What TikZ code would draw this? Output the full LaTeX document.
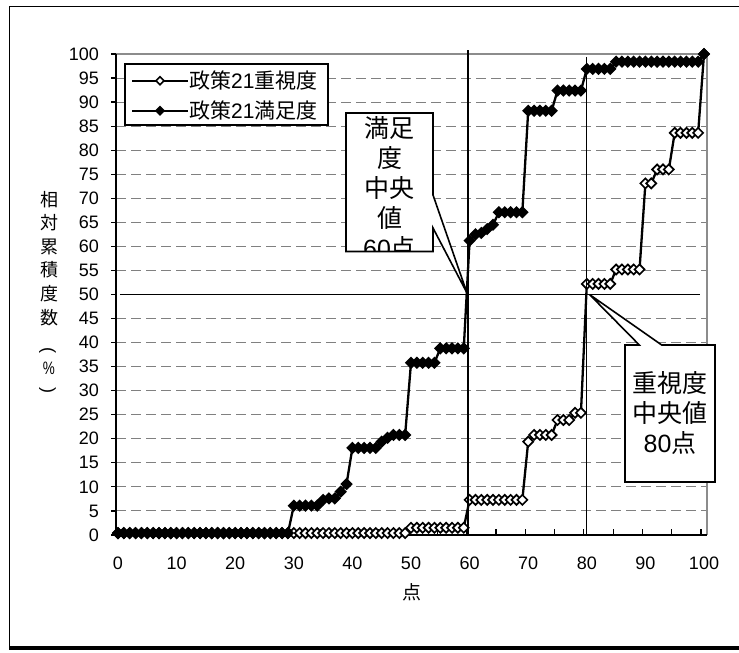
\documentclass[tikz,border=0pt]{standalone}
\usepackage{fontspec}
\setmainfont{Liberation Sans}
\newfontfamily\cjk{Noto Sans CJK JP}
\definecolor{gridgray}{RGB}{128,128,128}
\definecolor{bordergray}{RGB}{140,140,140}
\tikzset{
  gridl/.style={draw=gridgray, line width=1pt, dash pattern=on 10pt off 5pt},
  plotborder/.style={draw=bordergray, line width=1.6pt},
  axisl/.style={draw=black, line width=1.2pt},
  serline/.style={draw=black, line width=2.3pt, line join=round},
  openmk/.style={draw=black, fill=white, line width=1.7pt, line join=miter},
  fillmk/.style={draw=black, fill=black, line width=1.7pt, line join=miter},
  legopen/.style={draw=black, fill=white, line width=1.5pt, line join=miter},
  legfill/.style={draw=black, fill=black, line width=1.5pt, line join=miter},
  medline/.style={draw=black, line width=1.5pt},
  callout/.style={draw=black, fill=white, line width=1.6pt, line join=miter},
  legbox/.style={draw=black, fill=white, line width=1.3pt},
  ticklab/.style={font=\fontsize{18}{20}\selectfont, inner sep=0pt},
  legtext/.style={font=\fontsize{21}{24}\selectfont, inner sep=0pt, anchor=base west},
  cotext/.style={font=\fontsize{25}{30}\selectfont, inner sep=0pt, anchor=base},
  ylab/.style={font=\fontsize{18}{18}\selectfont\cjk, inner sep=0pt},
  yparen/.style={font=\fontsize{18}{18}\selectfont, inner sep=0pt, rotate=-90}
}
\begin{document}
\begin{tikzpicture}[x=1pt,y=1pt]
\useasboundingbox (0,0) rectangle (739,653);
\fill[white] (0,0) rectangle (739,653);
% outer frame
\draw[line width=1pt] (739,646) -- (9,646) -- (9,5);
\draw[line width=4pt] (9,5) -- (739,5);

\begin{scope}[x=5.86pt,y=4.81pt,shift={(118pt,118pt)}]
  \foreach \v in {5,10,...,45,55,60,...,95}
    \draw[gridl] (-0.34,\v) -- (100.5,\v);
  \draw[plotborder] (-0.34,100) -- (100.5,100) -- (100.5,0);
  \draw[axisl] (-0.34,100) -- (-0.34,0) -- (100.5,0);
  \foreach \v in {0,5,...,100} {
    \draw[axisl] (-0.34,\v) -- ++(-5pt,0);
    \node[ticklab, anchor=east, xshift=-17pt] (yl\v) at (-0.34,\v) {\v};
  }
  \foreach \k in {5,10,...,100}
    \draw[axisl] ({\k-0.5},0) -- ++(0,6pt);
  \foreach \t in {0,10,...,100}
    \node[ticklab, yshift=-28.5pt] (xl\t) at (\t,0) {\t};

  % series 1: importance (open diamonds)
  \draw[serline] (0,0.4) -- (49,0.4) -- (50,1.5) -- (59,1.5) -- (60,7.3) -- (69,7.3)
    -- (70,19.4) -- (71,20.8) -- (74,20.8) -- (75,23.9) -- (77,23.9) -- (78,25.4)
    -- (79,25.4) -- (80,52.2) -- (84,52.2) -- (85,55.2) -- (89,55.2) -- (90,73.1)
    -- (91,73.1) -- (92,76) -- (94,76) -- (95,83.6) -- (99,83.6) -- (100,100);
  \foreach \a/\b/\v in {0/49/0.4, 50/59/1.5, 60/69/7.3, 70/70/19.4, 71/74/20.8,
      75/77/23.9, 78/79/25.4, 80/84/52.2, 85/89/55.2, 90/91/73.1, 92/94/76,
      95/99/83.6, 100/100/100} {
    \foreach \i in {\a,...,\b} {
      \draw[openmk] (\i,\v) +(0,5pt) -- +(5pt,0) -- +(0,-5pt) -- +(-5pt,0) -- cycle;
    }
  }
  % series 2: satisfaction (filled diamonds)
  \draw[serline] (0,0.4) -- (29,0.4) -- (30,6.1) -- (34,6.1) -- (35,7.3) -- (36,7.6)
    -- (37,7.6) -- (38,9) -- (39,10.6) -- (40,18.1) -- (44,18.1) -- (45,19.4)
    -- (46,20.2) -- (47,20.8) -- (49,20.8) -- (50,35.8) -- (54,35.8) -- (55,38.8)
    -- (59,38.8) -- (60,61.2) -- (61,62.5) -- (62,62.8) -- (63,63.6) -- (64,64.5)
    -- (65,67.1) -- (69,67.1) -- (70,88.2) -- (74,88.2) -- (75,92.4) -- (79,92.4)
    -- (80,96.9) -- (84,96.9) -- (85,98.4) -- (99,98.4) -- (100,100);
  \foreach \a/\b/\v in {0/29/0.4, 30/34/6.1, 35/35/7.3, 36/37/7.6, 38/38/9,
      39/39/10.6, 40/44/18.1, 45/45/19.4, 46/46/20.2, 47/49/20.8, 50/54/35.8,
      55/59/38.8, 60/60/61.2, 61/61/62.5, 62/62/62.8, 63/63/63.6, 64/64/64.5,
      65/69/67.1, 70/74/88.2, 75/79/92.4, 80/84/96.9, 85/99/98.4, 100/100/100} {
    \foreach \i in {\a,...,\b} {
      \draw[fillmk] (\i,\v) +(0,5pt) -- +(5pt,0) -- +(0,-5pt) -- +(-5pt,0) -- cycle;
    }
  }
  % median lines
  \draw[medline] (0.34,50) -- (99.3,50);
  \draw[medline] (59.7,100.8) -- (59.7,0);
  \draw[medline] (79.95,99.4) -- (79.95,0);
\end{scope}

% callout 1
\draw[callout] (346,540) -- (433,540) -- (433,458) -- (467,360) -- (433,425)
  -- (433,401.5) -- (346,401.5) -- cycle;
\begin{scope}
  \clip (346.8,402.3) rectangle (432.2,539.2);
  \node[cotext] (c1a) at (389.5,515.5) {\cjk 満足};
  \node[cotext] (c1b) at (389.5,485.5) {\cjk 度};
  \node[cotext] (c1c) at (389.5,455.5) {\cjk 中央};
  \node[cotext] (c1d) at (389.5,425.5) {\cjk 値};
  \node[cotext] (c1e) at (389.5,395.5) {60{\cjk 点}};
\end{scope}

% callout 2
\draw[callout] (625,308) -- (639.3,308) -- (589.5,358.5) -- (661.7,308) -- (715,308)
  -- (715,171) -- (625,171) -- cycle;
\node[cotext] (c2a) at (670,260.5) {\cjk 重視度};
\node[cotext] (c2b) at (670,230.5) {\cjk 中央値};
\node[cotext] (c2c) at (670,200.5) {80{\cjk 点}};

% legend
\draw[legbox] (125,528) rectangle (328,589);
\coordinate (l1a) at (132,572.3);
\coordinate (l1b) at (188,572.3);
\coordinate (l2a) at (132,542.3);
\coordinate (l2b) at (188,542.3);
\draw[serline] (l1a) -- (l1b);
\draw[legopen] (160,572.3) +(0,4pt) -- +(4pt,0) -- +(0,-4pt) -- +(-4pt,0) -- cycle;
\draw[serline] (l2a) -- (l2b);
\draw[legfill] (160,542.3) +(0,4pt) -- +(4pt,0) -- +(0,-4pt) -- +(-4pt,0) -- cycle;
\node[legtext] (lt1) at (189,564.5) {{\cjk 政策}21{\cjk 重視度}};
\node[legtext] (lt2) at (189,534.5) {{\cjk 政策}21{\cjk 満足度}};

% y axis title (vertical)
\node[ylab] (ya1) at (49,453) {相};
\node[ylab] (ya2) at (49,430) {対};
\node[ylab] (ya3) at (49,406) {累};
\node[ylab] (ya4) at (49,383) {積};
\node[ylab] (ya5) at (49,359) {度};
\node[ylab] (ya6) at (49,335) {数};
\node[yparen] (ya7) at (47.5,302) {(};
\node[font=\fontsize{18}{18}\selectfont, inner sep=0pt] (ya8) at (49,285) {\scalebox{0.75}[1]{\%}};
\node[yparen] (ya9) at (47.5,262) {)};

% x axis title
\node[font=\fontsize{19}{19}\selectfont\cjk, inner sep=0pt] (xa) at (412,60.5) {点};
\end{tikzpicture}
\end{document}
